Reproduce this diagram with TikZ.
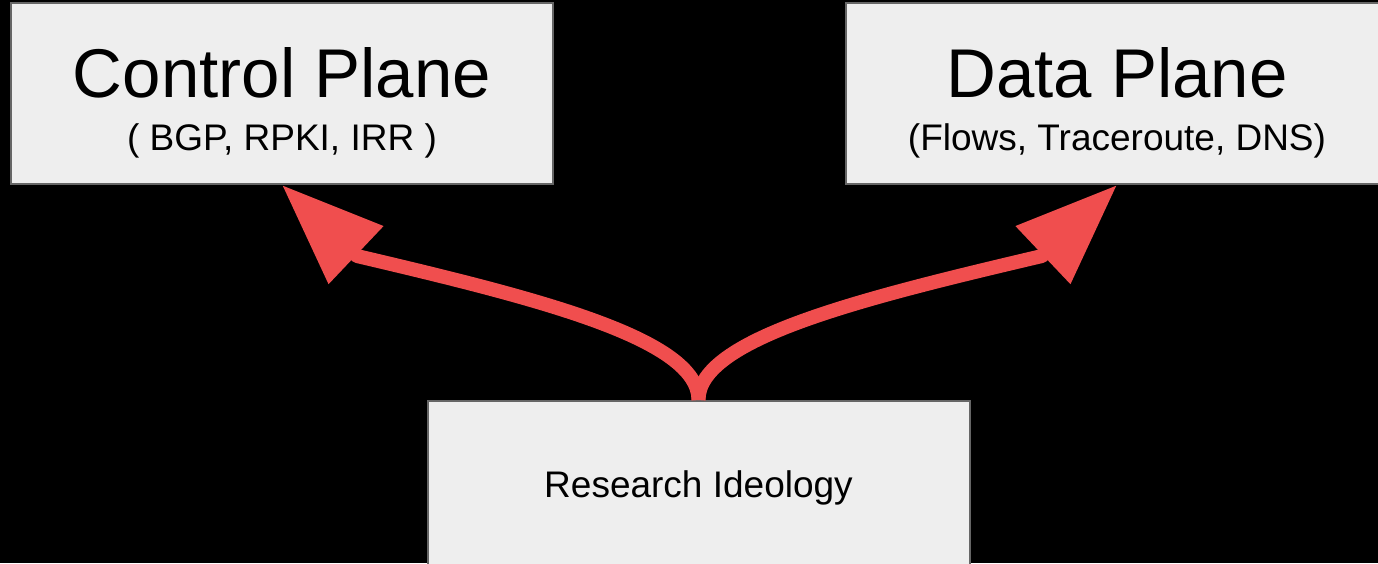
\documentclass[tikz,border=0pt]{standalone}
\usepackage{fontspec}
\setmainfont{Liberation Sans}
\usepackage{tikz}
\usetikzlibrary{positioning}
\usetikzlibrary{calc,arrows.meta}
\definecolor{boxfill}{HTML}{EEEEEE}
\definecolor{boxline}{HTML}{666666}
\definecolor{flowred}{HTML}{F04E4E}
\tikzset{>=latex}

\begin{document}
\begin{tikzpicture}[x=1pt, y=-1pt,
    plane/.style={draw=boxline, fill=boxfill, line width=2pt,
      minimum width=542pt, minimum height=181pt, inner sep=0pt},
    bigtext/.style={anchor=base, inner sep=0pt, font=\fontsize{69}{80}\selectfont},
    smalltext/.style={anchor=base, inner sep=0pt, font=\fontsize{37}{44}\selectfont},
    flow/.style={draw=flowred, line width=14pt, line join=round,
      -{Triangle[length=102pt, width=76pt]}}]

% Canvas
\useasboundingbox (0,0) rectangle (1378,563);
\fill[black] (0,0) rectangle (1378,563);
\clip (0,0) rectangle (1378,563);

% Boxes
\node[plane] (ctrl) at (282,93.5) {};
\node[plane] (data) at (1117,93.5) {};
\node[plane, minimum height=168pt] (ideo) at (698.5,485) {};

% Labels
\node[bigtext] (ctrlT) at (282,97) {Control Plane};
\node[smalltext] (ctrlS) at (282,150) {( BGP, RPKI, IRR )};
\node[bigtext] (dataT) at (1117,97) {Data Plane};
\node[smalltext] (dataS) at (1117,150) {(Flows, Traceroute, DNS)};
\node[smalltext] (ideoT) at (698.5,497) {Research Ideology};

% Arrows
\draw[flow] (ideo.north) .. controls +(0,-61) and +(183,43) ..
    ($(ctrl.south)+(75,71)$) -- (ctrl.south);
\draw[flow] (ideo.north) .. controls +(0,-61) and +(-183,43) ..
    ($(data.south)+(-75,71)$) -- (data.south);
\end{tikzpicture}
\end{document}
